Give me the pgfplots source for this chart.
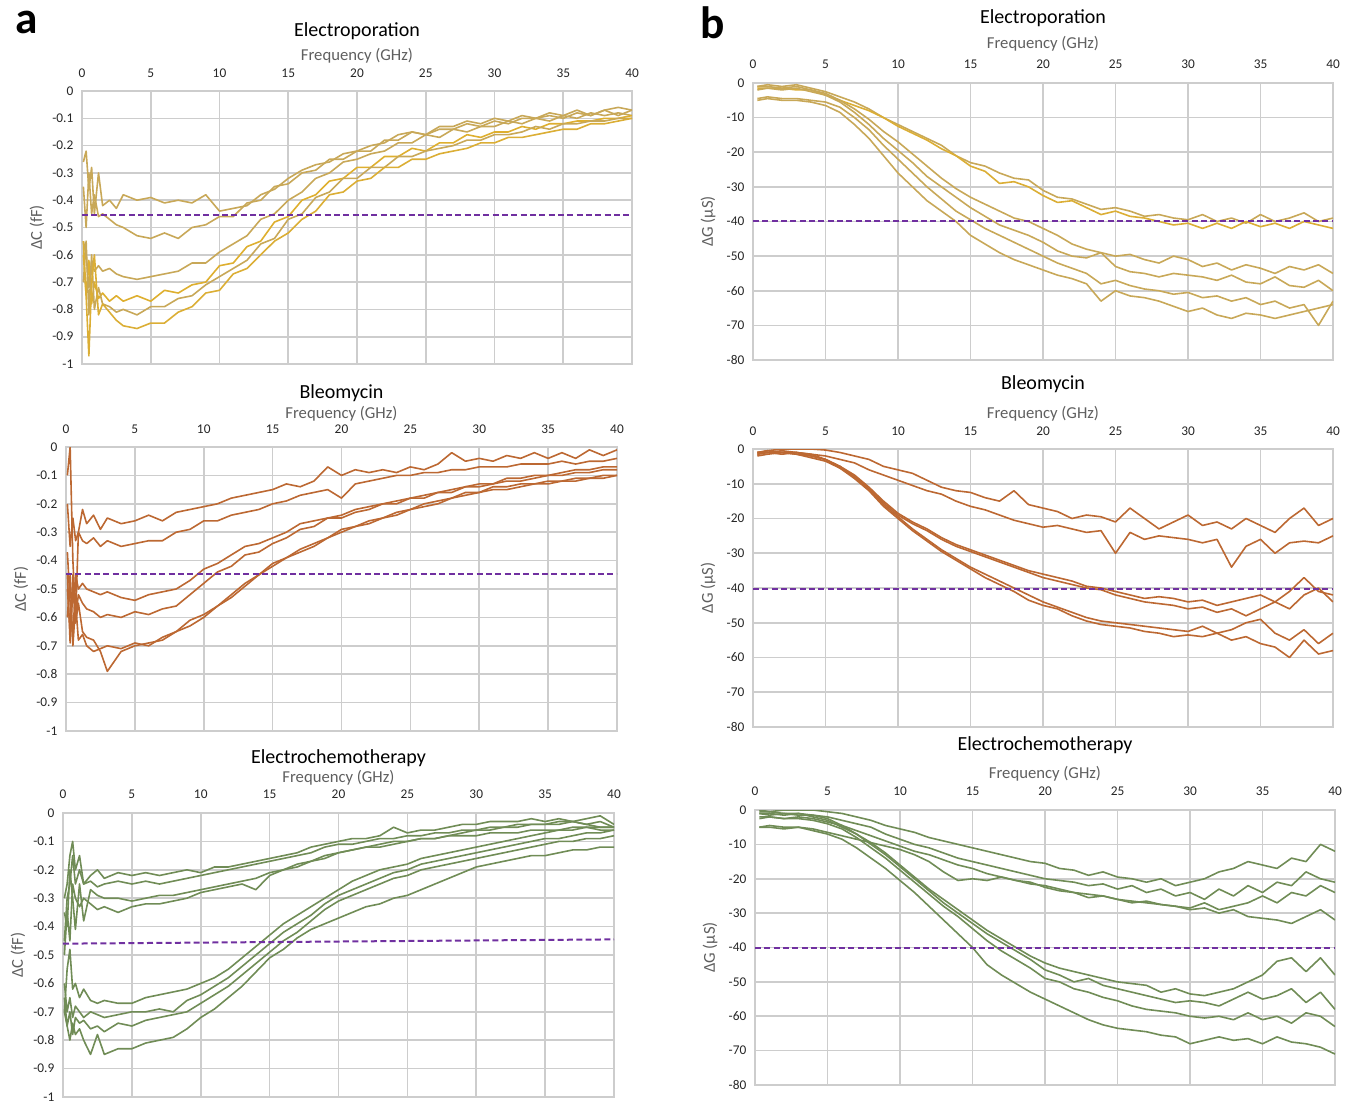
\documentclass[border=0pt]{standalone}
\usepackage{fontspec}
\setmainfont{Carlito}
\usepackage{pgfplots}
\pgfplotsset{compat=1.18}
\usepackage{pgfplotstable}

\definecolor{gridc}{RGB}{205,205,205}
\definecolor{epc}{RGB}{200,168,88}
\definecolor{epy}{RGB}{232,178,30}
\definecolor{blc}{RGB}{188,104,50}
\definecolor{ecc}{RGB}{112,140,86}
\definecolor{dashc}{RGB}{112,48,160}
\definecolor{lblc}{RGB}{95,95,95}

\pgfplotstableread{
x c1 c2 c3 c4 c5 c6
0.1 -0.26 -0.35 -0.55 -0.60 -0.70 -0.55
0.3 -0.22 -0.50 -0.60 -0.75 -0.55 -0.75
0.5 -0.36 -0.30 -0.72 -0.62 -0.82 -0.97
0.7 -0.28 -0.45 -0.62 -0.78 -0.60 -0.70
0.9 -0.45 -0.38 -0.66 -0.70 -0.80 -0.60
1.2 -0.30 -0.46 -0.64 -0.76 -0.72 -0.82
1.5 -0.42 -0.45 -0.66 -0.74 -0.78 -0.78
2 -0.40 -0.47 -0.65 -0.77 -0.79 -0.81
2.5 -0.43 -0.49 -0.67 -0.75 -0.81 -0.84
3 -0.38 -0.50 -0.68 -0.77 -0.80 -0.86
4 -0.40 -0.53 -0.69 -0.75 -0.82 -0.87
5 -0.39 -0.54 -0.68 -0.77 -0.79 -0.85
6 -0.41 -0.52 -0.67 -0.73 -0.79 -0.85
7 -0.40 -0.54 -0.66 -0.74 -0.76 -0.81
8 -0.41 -0.50 -0.63 -0.71 -0.75 -0.79
9 -0.38 -0.49 -0.63 -0.70 -0.71 -0.74
10 -0.44 -0.46 -0.59 -0.64 -0.68 -0.73
11 -0.43 -0.46 -0.56 -0.63 -0.65 -0.67
12 -0.42 -0.41 -0.53 -0.57 -0.62 -0.65
13 -0.38 -0.40 -0.47 -0.55 -0.56 -0.60
14 -0.36 -0.35 -0.45 -0.48 -0.54 -0.55
15 -0.32 -0.34 -0.40 -0.46 -0.47 -0.52
16 -0.29 -0.30 -0.37 -0.40 -0.45 -0.47
17 -0.27 -0.29 -0.32 -0.38 -0.39 -0.44
18 -0.26 -0.25 -0.30 -0.33 -0.37 -0.38
19 -0.23 -0.25 -0.26 -0.32 -0.32 -0.37
20 -0.22 -0.22 -0.25 -0.28 -0.32 -0.33
21 -0.20 -0.22 -0.23 -0.28 -0.28 -0.32
22 -0.19 -0.18 -0.22 -0.24 -0.28 -0.28
23 -0.16 -0.18 -0.19 -0.24 -0.24 -0.28
24 -0.15 -0.15 -0.19 -0.21 -0.24 -0.25
25 -0.16 -0.16 -0.16 -0.22 -0.22 -0.25
26 -0.13 -0.14 -0.17 -0.19 -0.21 -0.23
27 -0.13 -0.14 -0.14 -0.19 -0.20 -0.22
28 -0.11 -0.12 -0.15 -0.16 -0.18 -0.21
29 -0.12 -0.13 -0.13 -0.17 -0.18 -0.19
30 -0.10 -0.11 -0.13 -0.15 -0.16 -0.19
31 -0.11 -0.12 -0.11 -0.15 -0.16 -0.17
32 -0.09 -0.10 -0.12 -0.13 -0.15 -0.17
33 -0.10 -0.10 -0.10 -0.14 -0.13 -0.16
34 -0.08 -0.09 -0.11 -0.12 -0.14 -0.15
35 -0.09 -0.10 -0.09 -0.12 -0.12 -0.14
36 -0.07 -0.08 -0.10 -0.11 -0.12 -0.14
37 -0.09 -0.09 -0.08 -0.11 -0.11 -0.12
38 -0.07 -0.07 -0.09 -0.10 -0.11 -0.12
39 -0.06 -0.09 -0.08 -0.10 -0.10 -0.11
40 -0.07 -0.07 -0.09 -0.09 -0.10 -0.10
}\tA

\pgfplotstableread{
x c1 c2 c3 c4 c5 c6
0.1 -0.10 -0.20 -0.37 -0.45 -0.50 -0.60
0.3 0.00 -0.35 -0.55 -0.69 -0.65 -0.45
0.5 -0.40 -0.25 -0.68 -0.50 -0.45 -0.70
0.7 -0.60 -0.33 -0.45 -0.60 -0.62 -0.55
0.9 -0.30 -0.30 -0.50 -0.52 -0.55 -0.68
1.2 -0.22 -0.33 -0.48 -0.55 -0.65 -0.66
1.5 -0.27 -0.34 -0.50 -0.57 -0.67 -0.70
2 -0.24 -0.32 -0.51 -0.58 -0.68 -0.72
2.5 -0.29 -0.35 -0.52 -0.60 -0.72 -0.71
3 -0.25 -0.33 -0.51 -0.59 -0.79 -0.70
4 -0.27 -0.35 -0.53 -0.60 -0.72 -0.71
5 -0.26 -0.34 -0.54 -0.58 -0.70 -0.69
6 -0.24 -0.33 -0.52 -0.59 -0.69 -0.70
7 -0.26 -0.33 -0.51 -0.57 -0.68 -0.67
8 -0.23 -0.30 -0.50 -0.56 -0.65 -0.65
9 -0.22 -0.29 -0.47 -0.52 -0.63 -0.61
10 -0.21 -0.26 -0.43 -0.48 -0.60 -0.59
11 -0.20 -0.26 -0.41 -0.44 -0.56 -0.56
12 -0.18 -0.24 -0.38 -0.42 -0.53 -0.52
13 -0.17 -0.23 -0.35 -0.38 -0.49 -0.48
14 -0.16 -0.22 -0.34 -0.37 -0.45 -0.45
15 -0.15 -0.20 -0.32 -0.34 -0.42 -0.41
16 -0.13 -0.19 -0.30 -0.32 -0.39 -0.39
17 -0.14 -0.17 -0.27 -0.29 -0.37 -0.36
18 -0.12 -0.16 -0.26 -0.28 -0.35 -0.34
19 -0.07 -0.15 -0.25 -0.25 -0.32 -0.32
20 -0.10 -0.18 -0.24 -0.25 -0.30 -0.29
21 -0.08 -0.13 -0.22 -0.23 -0.28 -0.28
22 -0.09 -0.12 -0.21 -0.22 -0.27 -0.26
23 -0.08 -0.11 -0.20 -0.20 -0.25 -0.25
24 -0.09 -0.10 -0.19 -0.20 -0.24 -0.23
25 -0.07 -0.10 -0.18 -0.18 -0.22 -0.22
26 -0.08 -0.09 -0.17 -0.18 -0.21 -0.20
27 -0.06 -0.09 -0.16 -0.16 -0.20 -0.19
28 -0.02 -0.08 -0.15 -0.16 -0.18 -0.18
29 -0.05 -0.08 -0.14 -0.14 -0.17 -0.16
30 -0.04 -0.07 -0.13 -0.14 -0.16 -0.16
31 -0.05 -0.07 -0.13 -0.13 -0.15 -0.14
32 -0.03 -0.07 -0.11 -0.12 -0.15 -0.14
33 -0.04 -0.06 -0.11 -0.12 -0.14 -0.13
34 -0.02 -0.06 -0.10 -0.11 -0.13 -0.13
35 -0.04 -0.06 -0.10 -0.10 -0.13 -0.12
36 -0.02 -0.05 -0.09 -0.10 -0.12 -0.12
37 -0.04 -0.06 -0.08 -0.09 -0.12 -0.11
38 -0.01 -0.05 -0.08 -0.09 -0.11 -0.11
39 -0.03 -0.05 -0.07 -0.08 -0.11 -0.10
40 -0.01 -0.04 -0.07 -0.08 -0.10 -0.10
}\tB

\pgfplotstableread{
x e1 e2 e3 e4 f1 f2 f3 f4
0.1 -0.30 -0.45 -0.35 -0.50 -0.70 -0.60 -0.65 -0.70
0.3 -0.25 -0.30 -0.40 -0.35 -0.55 -0.70 -0.75 -0.75
0.5 -0.15 -0.25 -0.20 -0.45 -0.48 -0.65 -0.70 -0.80
0.7 -0.10 -0.15 -0.30 -0.25 -0.62 -0.72 -0.78 -0.74
0.9 -0.20 -0.25 -0.41 -0.30 -0.60 -0.68 -0.72 -0.78
1.2 -0.15 -0.20 -0.25 -0.33 -0.65 -0.70 -0.74 -0.76
1.5 -0.25 -0.25 -0.38 -0.30 -0.62 -0.72 -0.73 -0.80
2 -0.22 -0.24 -0.27 -0.32 -0.66 -0.70 -0.76 -0.85
2.5 -0.20 -0.26 -0.29 -0.34 -0.67 -0.71 -0.75 -0.78
3 -0.23 -0.25 -0.30 -0.33 -0.66 -0.72 -0.77 -0.85
4 -0.21 -0.24 -0.30 -0.35 -0.67 -0.71 -0.74 -0.83
5 -0.22 -0.25 -0.31 -0.33 -0.67 -0.70 -0.75 -0.83
6 -0.21 -0.24 -0.30 -0.32 -0.65 -0.70 -0.73 -0.81
7 -0.22 -0.25 -0.29 -0.32 -0.64 -0.69 -0.72 -0.80
8 -0.21 -0.24 -0.29 -0.31 -0.63 -0.70 -0.71 -0.79
9 -0.20 -0.23 -0.28 -0.30 -0.62 -0.66 -0.70 -0.76
10 -0.21 -0.22 -0.27 -0.28 -0.60 -0.64 -0.67 -0.72
11 -0.19 -0.21 -0.26 -0.27 -0.58 -0.61 -0.64 -0.69
12 -0.19 -0.20 -0.25 -0.26 -0.55 -0.58 -0.61 -0.65
13 -0.18 -0.19 -0.24 -0.25 -0.51 -0.54 -0.57 -0.61
14 -0.17 -0.18 -0.23 -0.27 -0.47 -0.50 -0.53 -0.56
15 -0.16 -0.17 -0.21 -0.22 -0.43 -0.46 -0.49 -0.51
16 -0.15 -0.16 -0.20 -0.20 -0.39 -0.42 -0.45 -0.48
17 -0.14 -0.15 -0.18 -0.19 -0.36 -0.39 -0.42 -0.44
18 -0.12 -0.14 -0.17 -0.17 -0.33 -0.36 -0.38 -0.41
19 -0.11 -0.12 -0.16 -0.15 -0.30 -0.32 -0.34 -0.39
20 -0.10 -0.11 -0.14 -0.14 -0.27 -0.29 -0.31 -0.37
21 -0.09 -0.11 -0.13 -0.13 -0.24 -0.27 -0.29 -0.35
22 -0.09 -0.10 -0.12 -0.12 -0.22 -0.25 -0.27 -0.33
23 -0.08 -0.09 -0.12 -0.11 -0.20 -0.23 -0.25 -0.32
24 -0.05 -0.09 -0.11 -0.10 -0.19 -0.21 -0.23 -0.30
25 -0.07 -0.08 -0.10 -0.10 -0.18 -0.20 -0.22 -0.29
26 -0.06 -0.08 -0.09 -0.09 -0.16 -0.18 -0.20 -0.27
27 -0.06 -0.07 -0.09 -0.09 -0.15 -0.17 -0.19 -0.25
28 -0.05 -0.07 -0.08 -0.08 -0.14 -0.16 -0.18 -0.23
29 -0.04 -0.06 -0.07 -0.08 -0.13 -0.15 -0.17 -0.21
30 -0.04 -0.06 -0.06 -0.08 -0.12 -0.14 -0.16 -0.19
31 -0.03 -0.05 -0.06 -0.07 -0.11 -0.13 -0.15 -0.18
32 -0.03 -0.05 -0.05 -0.07 -0.10 -0.12 -0.14 -0.17
33 -0.03 -0.04 -0.05 -0.07 -0.09 -0.11 -0.13 -0.16
34 -0.02 -0.04 -0.04 -0.06 -0.08 -0.10 -0.12 -0.15
35 -0.03 -0.04 -0.04 -0.06 -0.07 -0.09 -0.11 -0.15
36 -0.02 -0.04 -0.03 -0.06 -0.06 -0.09 -0.10 -0.14
37 -0.03 -0.03 -0.03 -0.05 -0.06 -0.08 -0.10 -0.13
38 -0.02 -0.04 -0.04 -0.05 -0.05 -0.07 -0.09 -0.13
39 -0.01 -0.05 -0.03 -0.06 -0.05 -0.07 -0.09 -0.12
40 -0.04 -0.05 -0.05 -0.06 -0.05 -0.06 -0.08 -0.12
}\tC

\pgfplotstableread{
x g1 g2 g3 g4 g5 g6
0.3 -1 -1.5 -1 -2 -4.5 -5
1 -0.5 -1.5 -1 -1.5 -4 -4.5
2 -1 -1.5 -1.5 -2 -4.5 -5
3 -0.5 -2 -1 -1.5 -4.5 -5
4 -1.5 -2 -2 -2.5 -5 -5.5
5 -2.5 -3.5 -3 -3.5 -5.5 -6.5
6 -4 -5 -5 -5.5 -7 -8.5
7 -5.5 -6.5 -7.5 -8.5 -10 -12
8 -7.5 -8 -10.5 -12 -13.5 -16
9 -10 -10 -14 -16 -18 -21
10 -12 -12.5 -17 -19.5 -22 -26
11 -14 -14.5 -20.5 -23 -26 -30
12 -16 -16.5 -24 -27 -30 -34
13 -18 -19 -27.5 -30 -33.5 -37
14 -21 -21 -30.5 -33 -37 -40
15 -23 -24 -33 -36 -39.5 -44
16 -24 -25.5 -35 -38.5 -42 -46.5
17 -26 -29 -37 -41 -44 -49
18 -27.5 -28.5 -39 -42.5 -46 -51
19 -28 -30 -40 -44 -48 -52.5
20 -31 -32.5 -42 -46 -50 -54
21 -33 -34.5 -44 -48.5 -52 -55.5
22 -33.5 -34 -46.5 -50 -53.5 -56.5
23 -35 -36 -48 -50.5 -55 -58
24 -36.5 -38 -49 -49 -58 -63
25 -36 -37 -50 -53 -57 -60
26 -37 -38.5 -49.5 -54.5 -58.5 -61.5
27 -38.5 -39 -51 -55 -59.5 -62
28 -38 -40 -52 -56 -60 -63
29 -39 -41 -50 -55 -61 -64.5
30 -39.5 -40.5 -51 -55.5 -60.5 -66
31 -38 -42 -53 -56 -62 -65
32 -40 -40.5 -52 -57 -61.5 -67
33 -39 -42 -54 -55.5 -63 -68
34 -40.5 -40 -52.5 -57.5 -62 -66.5
35 -38 -41.5 -53.5 -58 -64 -67
36 -40 -40.5 -55 -56 -63 -68
37 -39 -42 -53 -58.5 -65 -67
38 -37.5 -40 -54 -59 -64 -66
39 -40 -41 -52.5 -57 -70 -65
40 -39 -42 -55 -60 -63 -64
}\tD

\pgfplotstableread{
x u1 u2 l1 l2 l3 l4
0.3 -1 -1.5 -1 -2 -1.5 -1
1 -0.5 -1 -1 -1.5 -1 -0.5
2 0 -1 -1.5 -1 -0.5 -1
3 0 -1 -1 -1.5 -1 -1.5
4 0 -1.5 -2 -2 -1.5 -2.5
5 -0.3 -2 -3 -3 -3 -3.5
6 -1 -3 -5 -5.5 -5 -5.5
7 -2 -4 -7.5 -8 -8 -8.5
8 -3 -6 -11 -11.5 -11.5 -12
9 -5 -7.5 -15 -15.5 -16 -16.5
10 -6 -9 -18.5 -19 -19.5 -20
11 -7 -10.5 -21 -21.5 -23 -23.5
12 -9 -12 -23 -23.5 -26 -26.5
13 -11 -13 -25.5 -26 -29 -29.5
14 -12 -15 -27.5 -28 -31.5 -32
15 -12.5 -16.5 -29 -29.5 -34 -34.5
16 -14 -17.5 -30.5 -31 -36 -37
17 -15 -19 -32 -32.5 -38 -39
18 -12 -20.5 -33.5 -34 -40 -41
19 -16 -21.5 -35 -35.5 -42 -43.5
20 -17 -22.5 -36 -37 -44 -45
21 -18 -22 -37 -38 -45.5 -46
22 -20 -23 -38 -39 -47 -48
23 -19 -24 -39.5 -40 -48.5 -49.5
24 -19.5 -23.5 -40 -40.5 -49.5 -50.5
25 -21 -30 -41 -42 -50 -51
26 -17 -24 -42 -43 -50.5 -51.5
27 -20 -26 -43 -44 -51 -52.5
28 -23 -25 -42.5 -44.5 -51.5 -53
29 -21 -25.5 -43 -45 -52 -54
30 -19 -26 -44 -46 -52.5 -53.5
31 -22 -27 -43.5 -45.5 -51 -54
32 -21 -26 -45 -47 -53 -53
33 -23 -34 -44 -46 -52 -55
34 -20 -28 -43 -48 -50 -54
35 -22 -26 -42 -46 -49 -56
36 -24 -30 -44 -44 -53 -57
37 -20 -27 -41 -46 -55 -60
38 -17 -26.5 -37 -42 -52 -55
39 -22 -27 -41 -40 -56 -59
40 -20 -25 -42 -44 -53 -58
}\tE

\pgfplotstableread{
x v1 v2 v3 v4 w1 w2 w3 w4
0.3 0 -1 -2 -5 -1 -0.5 -2.5 -5
1 -0.5 -1.5 -2 -4.5 -1 -0.5 -2 -5
2 0 -1 -2.5 -5 -1.5 -1 -2.5 -5.5
3 0 -1.5 -2 -5 -1 -1 -2.5 -5
4 0 -1.5 -2.5 -5.5 -2 -1.5 -3 -6
5 -0.5 -2 -3.5 -6.5 -3 -2.5 -4 -7
6 -1 -3 -4.5 -7.5 -5 -4.5 -5.5 -8.5
7 -2 -4 -6 -8.5 -7 -7 -8 -11
8 -3 -5 -7.5 -9.5 -9.5 -10 -11 -14
9 -4.5 -7 -9 -10.5 -12.5 -13 -14 -17
10 -5.5 -8.5 -10.5 -11.5 -16 -16.5 -17.5 -20.5
11 -6.5 -10 -12 -13 -19.5 -20 -21 -24
12 -8 -11 -13 -15 -23 -23.5 -24.5 -28
13 -9 -12.5 -14.5 -18 -26 -27 -28 -32
14 -10 -14 -16 -20.5 -29 -30 -31 -36
15 -11 -15 -17 -20 -32 -33 -34.5 -40
16 -12 -16 -18.5 -20.5 -35 -36 -38 -45
17 -13 -17 -19.5 -19.5 -37.5 -38.5 -41 -48
18 -14 -18 -20.5 -20.5 -40 -41 -43.5 -50.5
19 -15 -19 -21.5 -21 -42.5 -43.5 -46 -53
20 -15.5 -20 -22 -22.5 -44.5 -46.5 -49 -55
21 -17 -20.5 -23 -23.5 -46 -48 -50 -57
22 -17.5 -21 -24 -24 -47 -50 -52 -59
23 -19 -22 -24.5 -25.5 -48 -49 -53 -61
24 -18 -21.5 -25 -25 -49 -51 -54.5 -62.5
25 -19.5 -23 -26 -26 -50 -52 -55.5 -63.5
26 -20 -22 -26.5 -27 -50.5 -53 -57 -64
27 -21 -24 -27 -26.5 -51 -54 -58 -64.5
28 -20 -23 -27.5 -27.5 -53 -55 -58.5 -65.5
29 -22 -25 -28 -28 -52 -56 -59 -66
30 -21 -24 -28.5 -29 -53.5 -55.5 -60 -68
31 -20 -26 -27 -28.5 -54 -56 -60.5 -67
32 -18 -23 -29 -30 -53 -57 -60 -66
33 -17 -25 -28 -29 -52 -55 -61 -67
34 -15 -22 -27 -31 -50 -53 -59 -66.5
35 -16 -24 -25 -31.5 -48 -55 -61 -68
36 -17 -21 -27 -32 -44 -54 -60 -66
37 -14 -22 -24 -33 -43 -52 -62 -67.5
38 -15 -18 -25 -31 -47 -56 -59 -68
39 -10 -20 -22 -29 -43 -53 -60 -69
40 -12 -21 -24 -32 -48 -58 -63 -71
}\tF

\pgfplotsset{
  panel/.style={
    scale only axis, anchor=north west,
    xmin=0, xmax=40, xtick={0,5,10,15,20,25,30,35,40},
    xticklabel pos=upper,
    grid=major,
    major grid style={draw=gridc, line width=1.2pt},
    axis line style={draw=gridc, line width=1.2pt},
    major tick length=0pt,
    tick label style={font=\fontsize{10}{12}\selectfont, text=black!85},
    yticklabel style={xshift=-3pt},
    /pgf/number format/assume math mode=true,
    xlabel={Frequency (GHz)},
    every axis title/.style={at={(0.5,1)}, anchor=center, font=\fontsize{15}{18}\selectfont},
    every axis x label/.style={at={(0.5,1)}, anchor=center, font=\fontsize{12.5}{15}\selectfont, text=lblc},
    every axis y label/.style={at={(0,0.5)}, xshift=-33.75pt, rotate=90, anchor=center, font=\fontsize{12.5}{14}\selectfont, text=lblc},
    clip=true,
  },
  panelC/.style={panel, ymin=-1, ymax=0,
    ytick={-1,-0.9,-0.8,-0.7,-0.6,-0.5,-0.4,-0.3,-0.2,-0.1,0},
    yticklabels={-1,-0.9,-0.8,-0.7,-0.6,-0.5,-0.4,-0.3,-0.2,-0.1,0},
    ylabel={ΔC (fF)}},
  panelG/.style={panel, ymin=-80, ymax=0,
    ytick={-80,-70,-60,-50,-40,-30,-20,-10,0},
    yticklabels={-80,-70,-60,-50,-40,-30,-20,-10,0},
    ylabel={ΔG (µS)}},
  crv/.style={line width=1.2pt, line join=round},
  dsh/.style={dashc, line width=1.5pt, dash pattern=on 4.5pt off 2.5pt},
}

\begin{document}
\begin{tikzpicture}
\path[use as bounding box] (0,0) rectangle (1013.25pt,-827.25pt);
\node[anchor=base west, font=\fontsize{34}{34}\selectfont\bfseries] at (8pt,-24.75pt) {a};
\node[anchor=base west, font=\fontsize{34}{34}\selectfont\bfseries] at (522pt,-28.5pt) {b};

% A1
\begin{axis}[panelC, at={(61.5pt,-68.25pt)}, width=412.5pt, height=204.75pt,
  title={Electroporation}, title style={yshift=45pt},
  xlabel style={yshift=26.25pt}, xticklabel style={anchor=center, yshift=13.5pt}]
\addplot[crv, epc] table[y=c1] {\tA};
\addplot[crv, epc] table[y=c2] {\tA};
\addplot[crv, epc] table[y=c3] {\tA};
\addplot[crv, epy!70!epc] table[y=c4] {\tA};
\addplot[crv, epc] table[y=c5] {\tA};
\addplot[crv, epy!60!epc] table[y=c6] {\tA};
\addplot[dsh] coordinates {(0,-0.455) (40,-0.455)};
\end{axis}

% A2
\begin{axis}[panelC, at={(49.5pt,-335.25pt)}, width=413.25pt, height=213pt,
  title={Bleomycin}, title style={yshift=40.5pt},
  xlabel style={yshift=24.75pt}, xticklabel style={anchor=center, yshift=13.5pt}]
\addplot[crv, blc] table[y=c1] {\tB};
\addplot[crv, blc] table[y=c2] {\tB};
\addplot[crv, blc] table[y=c3] {\tB};
\addplot[crv, blc] table[y=c4] {\tB};
\addplot[crv, blc] table[y=c5] {\tB};
\addplot[crv, blc] table[y=c6] {\tB};
\addplot[dsh] coordinates {(0,-0.447) (40,-0.447)};
\end{axis}

% A3
\begin{axis}[panelC, at={(47.25pt,-609.75pt)}, width=413.25pt, height=213pt,
  title={Electrochemotherapy}, title style={yshift=41.25pt},
  xlabel style={yshift=26.25pt}, xticklabel style={anchor=center, yshift=14.25pt}]
\addplot[crv, ecc] table[y=e1] {\tC};
\addplot[crv, ecc] table[y=e2] {\tC};
\addplot[crv, ecc] table[y=e3] {\tC};
\addplot[crv, ecc] table[y=e4] {\tC};
\addplot[crv, ecc] table[y=f1] {\tC};
\addplot[crv, ecc] table[y=f2] {\tC};
\addplot[crv, ecc] table[y=f3] {\tC};
\addplot[crv, ecc] table[y=f4] {\tC};
\addplot[dsh] coordinates {(0,-0.46) (40,-0.445)};
\end{axis}

% B1
\begin{axis}[panelG, at={(564.75pt,-62.25pt)}, width=435pt, height=207.75pt,
  title={Electroporation}, title style={yshift=48.75pt},
  xlabel style={yshift=29.25pt}, xticklabel style={anchor=center, yshift=14.25pt}]
\addplot[crv, epc] table[y=g1] {\tD};
\addplot[crv, epy!60!epc] table[y=g2] {\tD};
\addplot[crv, epc] table[y=g3] {\tD};
\addplot[crv, epc] table[y=g4] {\tD};
\addplot[crv, epc] table[y=g5] {\tD};
\addplot[crv, epc] table[y=g6] {\tD};
\addplot[dsh] coordinates {(0,-40) (40,-40)};
\end{axis}

% B2
\begin{axis}[panelG, at={(564.75pt,-336.75pt)}, width=435pt, height=208.5pt,
  title={Bleomycin}, title style={yshift=48.75pt},
  xlabel style={yshift=26.25pt}, xticklabel style={anchor=center, yshift=13.5pt}]
\addplot[crv, blc] table[y=u1] {\tE};
\addplot[crv, blc] table[y=u2] {\tE};
\addplot[crv, blc] table[y=l1] {\tE};
\addplot[crv, blc] table[y=l2] {\tE};
\addplot[crv, blc] table[y=l3] {\tE};
\addplot[crv, blc] table[y=l4] {\tE};
\addplot[dsh] coordinates {(0,-40.3) (40,-40.3)};
\end{axis}

% B3
\begin{axis}[panelG, at={(566.25pt,-607.5pt)}, width=435pt, height=206.25pt,
  title={Electrochemotherapy}, title style={yshift=48.75pt},
  xlabel style={yshift=27pt}, xticklabel style={anchor=center, yshift=14.25pt}]
\addplot[crv, ecc] table[y=v1] {\tF};
\addplot[crv, ecc] table[y=v2] {\tF};
\addplot[crv, ecc] table[y=v3] {\tF};
\addplot[crv, ecc] table[y=v4] {\tF};
\addplot[crv, ecc] table[y=w1] {\tF};
\addplot[crv, ecc] table[y=w2] {\tF};
\addplot[crv, ecc] table[y=w3] {\tF};
\addplot[crv, ecc] table[y=w4] {\tF};
\addplot[dsh] coordinates {(0,-40) (40,-40)};
\end{axis}
\end{tikzpicture}
\end{document}
